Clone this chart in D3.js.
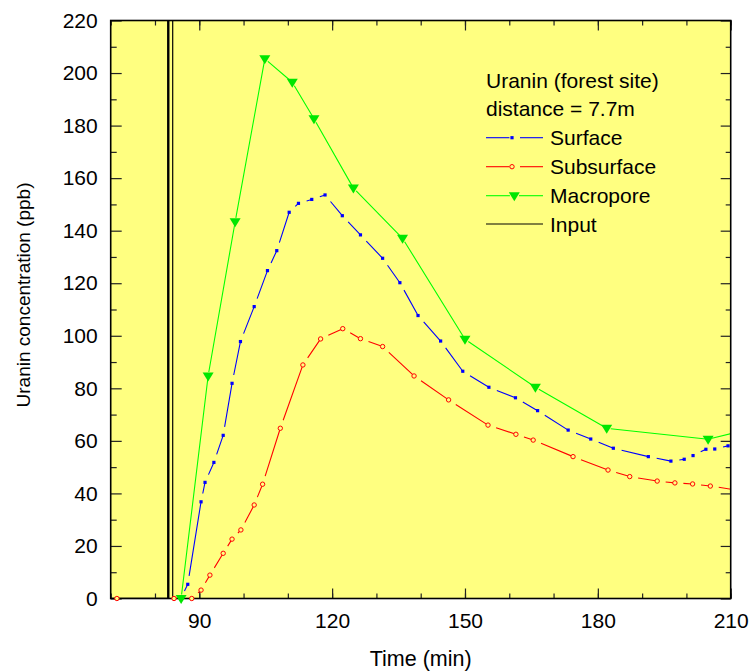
<!DOCTYPE html>
<html><head><meta charset="utf-8">
<script src="https://cdn.jsdelivr.net/npm/d3@7"></script>
<style>body{margin:0;background:#fff} text{font-family:Arial,"Liberation Sans",sans-serif;fill:#000}</style>
</head><body><svg id="c" width="754" height="671"></svg>
<script>
// ---- data ----
const surfaceT=[85.8,87.4,90.4,91.3,93.3,95.4,97.4,99.3,102.4,105.4,107.5,110.3,112.4,115.4,118.4,122.3,126.4,131.4,135.3,139.4,144.5,149.5,155.4,161.4,166.4,173.3,178.4,183.5,191.4,196.5,199.5,201.5,204.4,206.4,209.4];
const surfaceV=[0,5.4,36.8,44.2,51.8,62.1,81.9,97.8,111.1,124.8,132.4,147.0,150.4,151.9,153.6,145.7,138.4,129.5,120.2,107.7,98.0,86.5,80.4,76.4,71.5,64.1,60.7,57.2,54.0,52.3,53.0,54.4,56.8,56.9,58.1];
const subsurfaceT=[71.4,84.3,88.3,90.4,92.4,95.4,97.4,99.4,102.4,104.3,108.3,113.4,117.4,122.4,126.4,131.4,138.5,146.3,155.2,161.5,165.4,174.4,182.3,187.2,193.4,197.4,201.4,205.4,214];
const subsurfaceV=[0,0,0,3.2,8.9,17.2,22.6,26.1,35.6,43.5,64.8,88.9,98.8,102.7,98.9,95.9,84.7,75.6,66.0,62.5,60.3,54.0,48.9,46.4,44.7,44.0,43.6,42.8,40.6];
const macroporeT=[85.9,92.0,98.1,104.8,111.0,115.9,124.8,135.9,150.0,165.9,182.0,204.9,214];
const macroporeV=[0,84.7,143.4,205.4,196.5,182.6,156.2,137.1,98.7,80.4,64.8,60.6,64.4];
const inputT=[83,84];
const xTicks=[90,120,150,180,210];
const xMinor=[70,80,90,100,110,120,130,140,150,160,170,180,190,200,210];
const yTicks=[0,20,40,60,80,100,120,140,160,180,200,220];
const yMinor=[10,30,50,70,90,110,130,150,170,190,210];
const legendTitle=["Uranin (forest site)","distance = 7.7m"];
const legendLabels=["Surface","Subsurface","Macropore","Input"];

// ---- layout ----
const svg=d3.select("#c");
const L=110.7,R=730.7,T=20.5,B=598.5;
const x=d3.scaleLinear().domain([70,210]).range([L,R]);
const y=d3.scaleLinear().domain([0,220]).range([B,T]);

svg.append("rect").attr("width",754).attr("height",671).attr("fill","#fff");
svg.append("rect").attr("x",L).attr("y",T).attr("width",R-L).attr("height",B-T).attr("fill","#ffff80");
svg.append("defs").append("clipPath").attr("id","clip").append("rect")
  .attr("x",L).attr("y",T).attr("width",R-L).attr("height",B-T);

function gapPath(ts,vs,gap){
  const p=d3.path();
  for(let i=0;i<ts.length-1;i++){
    const x0=x(ts[i]),y0=y(vs[i]),x1=x(ts[i+1]),y1=y(vs[i+1]);
    const len=Math.hypot(x1-x0,y1-y0);
    if(len<=gap) continue;
    const f=gap/len;
    p.moveTo(x0+(x1-x0)*f,y0+(y1-y0)*f);
    p.lineTo(x1,y1);
  }
  return p.toString();
}

const lines=svg.append("g").attr("clip-path","url(#clip)");
// input pulse
lines.append("line").attr("x1",x(70)).attr("x2",x(inputT[0])).attr("y1",y(0)).attr("y2",y(0))
  .attr("stroke","#808040").attr("stroke-width",2);
lines.append("line").attr("x1",x(inputT[0])).attr("x2",x(inputT[0])).attr("y1",y(0)).attr("y2",y(220))
  .attr("stroke","#000").attr("stroke-width",2.4);
lines.append("line").attr("x1",x(inputT[1])).attr("x2",x(inputT[1])).attr("y1",y(0)).attr("y2",y(220))
  .attr("stroke","#000").attr("stroke-width",1.2);

lines.append("path").attr("d",gapPath(subsurfaceT,subsurfaceV,8.5)).attr("stroke","#ff0000").attr("fill","none").attr("stroke-width",1.1);
lines.append("path").attr("d",gapPath(surfaceT,surfaceV,8.5)).attr("stroke","#0000ff").attr("fill","none").attr("stroke-width",1.1);
lines.append("path").attr("d",gapPath(macroporeT,macroporeV,4)).attr("stroke","#00ff00").attr("fill","none").attr("stroke-width",1.1);

// ---- axes ----
function ax(gen,tr){
  const g=svg.append("g").attr("transform",tr).call(gen);
  g.select(".domain").remove();
  g.selectAll("line").attr("stroke","#222").attr("stroke-width",1.2);
  g.selectAll("text").style("font-size","21px").attr("fill","#000");
  return g;
}
ax(d3.axisBottom(x).tickValues(xTicks).tickSize(-10).tickPadding(15).tickFormat(d3.format("d")),`translate(0,${B})`);
ax(d3.axisBottom(x).tickValues(xMinor).tickSize(-5).tickFormat(""),`translate(0,${B})`);
ax(d3.axisTop(x).tickValues(xTicks).tickSize(-10).tickFormat(""),`translate(0,${T})`);
ax(d3.axisTop(x).tickValues(xMinor).tickSize(-5).tickFormat(""),`translate(0,${T})`);
ax(d3.axisLeft(y).tickValues(yTicks).tickSize(-11).tickPadding(13).tickFormat(d3.format("d")),`translate(${L},0)`);
ax(d3.axisLeft(y).tickValues(yMinor).tickSize(-6).tickFormat(""),`translate(${L},0)`);
ax(d3.axisRight(y).tickValues(yTicks).tickSize(-10).tickFormat(""),`translate(${R},0)`);
ax(d3.axisRight(y).tickValues(yMinor).tickSize(-5).tickFormat(""),`translate(${R},0)`);
svg.selectAll(".tick text").attr("font-family",null);
svg.append("rect").attr("x",L).attr("y",T).attr("width",R-L).attr("height",B-T)
  .attr("fill","none").attr("stroke","#000").attr("stroke-width",1.6);

// ---- markers ----
const mk=svg.append("g");
const tri="M-5.5,-3.5L5.5,-3.5L0,5.5Z";
subsurfaceT.forEach((t,i)=>{ if(t<=210) mk.append("circle").attr("cx",x(t)).attr("cy",y(subsurfaceV[i])).attr("r",2.2)
  .attr("fill","#ffff80").attr("stroke","#ff0000").attr("stroke-width",1);});
surfaceT.forEach((t,i)=>{ if(t<=210) mk.append("rect").attr("x",x(t)-1.6).attr("y",y(surfaceV[i])-1.6).attr("width",3.2).attr("height",3.2).attr("fill","#0000ff");});
macroporeT.forEach((t,i)=>{ if(t<=210) mk.append("path").attr("d",tri).attr("transform",`translate(${x(t)},${y(macroporeV[i])})`).attr("fill","#00e600");});

// ---- titles ----
svg.append("text").attr("x",(L+R)/2).attr("y",666).attr("text-anchor","middle").style("font-size","21.5px").text("Time (min)");
svg.append("text").attr("transform","translate(30,295) rotate(-90)").attr("text-anchor","middle").style("font-size","19px").text("Uranin concentration (ppb)");

// ---- legend ----
const lg=svg.append("g");
legendTitle.forEach((s,i)=>lg.append("text").attr("x",486).attr("y",87.5+i*28).style("font-size","21px").text(s));
const ly=[137.7,166.7,195.7,224];
const lcol=["#0000ff","#ff0000","#00ff00","#808040"];
legendLabels.forEach((s,i)=>{
  const yy=ly[i];
  if(i<3){
    lg.append("line").attr("x1",486).attr("x2",i==2?510:509.5).attr("y1",yy).attr("y2",yy).attr("stroke",lcol[i]).attr("stroke-width",1.1);
    lg.append("line").attr("x1",i==2?519:520).attr("x2",543).attr("y1",yy).attr("y2",yy).attr("stroke",lcol[i]).attr("stroke-width",1.1);
  } else {
    lg.append("line").attr("x1",486).attr("x2",543).attr("y1",yy).attr("y2",yy).attr("stroke",lcol[i]).attr("stroke-width",2);
  }
  if(i==0) lg.append("rect").attr("x",512-1.6).attr("y",yy-1.6).attr("width",3.2).attr("height",3.2).attr("fill","#0000ff");
  if(i==1) lg.append("circle").attr("cx",512).attr("cy",yy).attr("r",2.2).attr("fill","#ffff80").attr("stroke","#ff0000");
  if(i==2) lg.append("path").attr("d",tri).attr("transform",`translate(514.3,${yy})`).attr("fill","#00e600");
  lg.append("text").attr("x",550).attr("y",yy+7.5).style("font-size","21px").text(s);
});
</script></body></html>
